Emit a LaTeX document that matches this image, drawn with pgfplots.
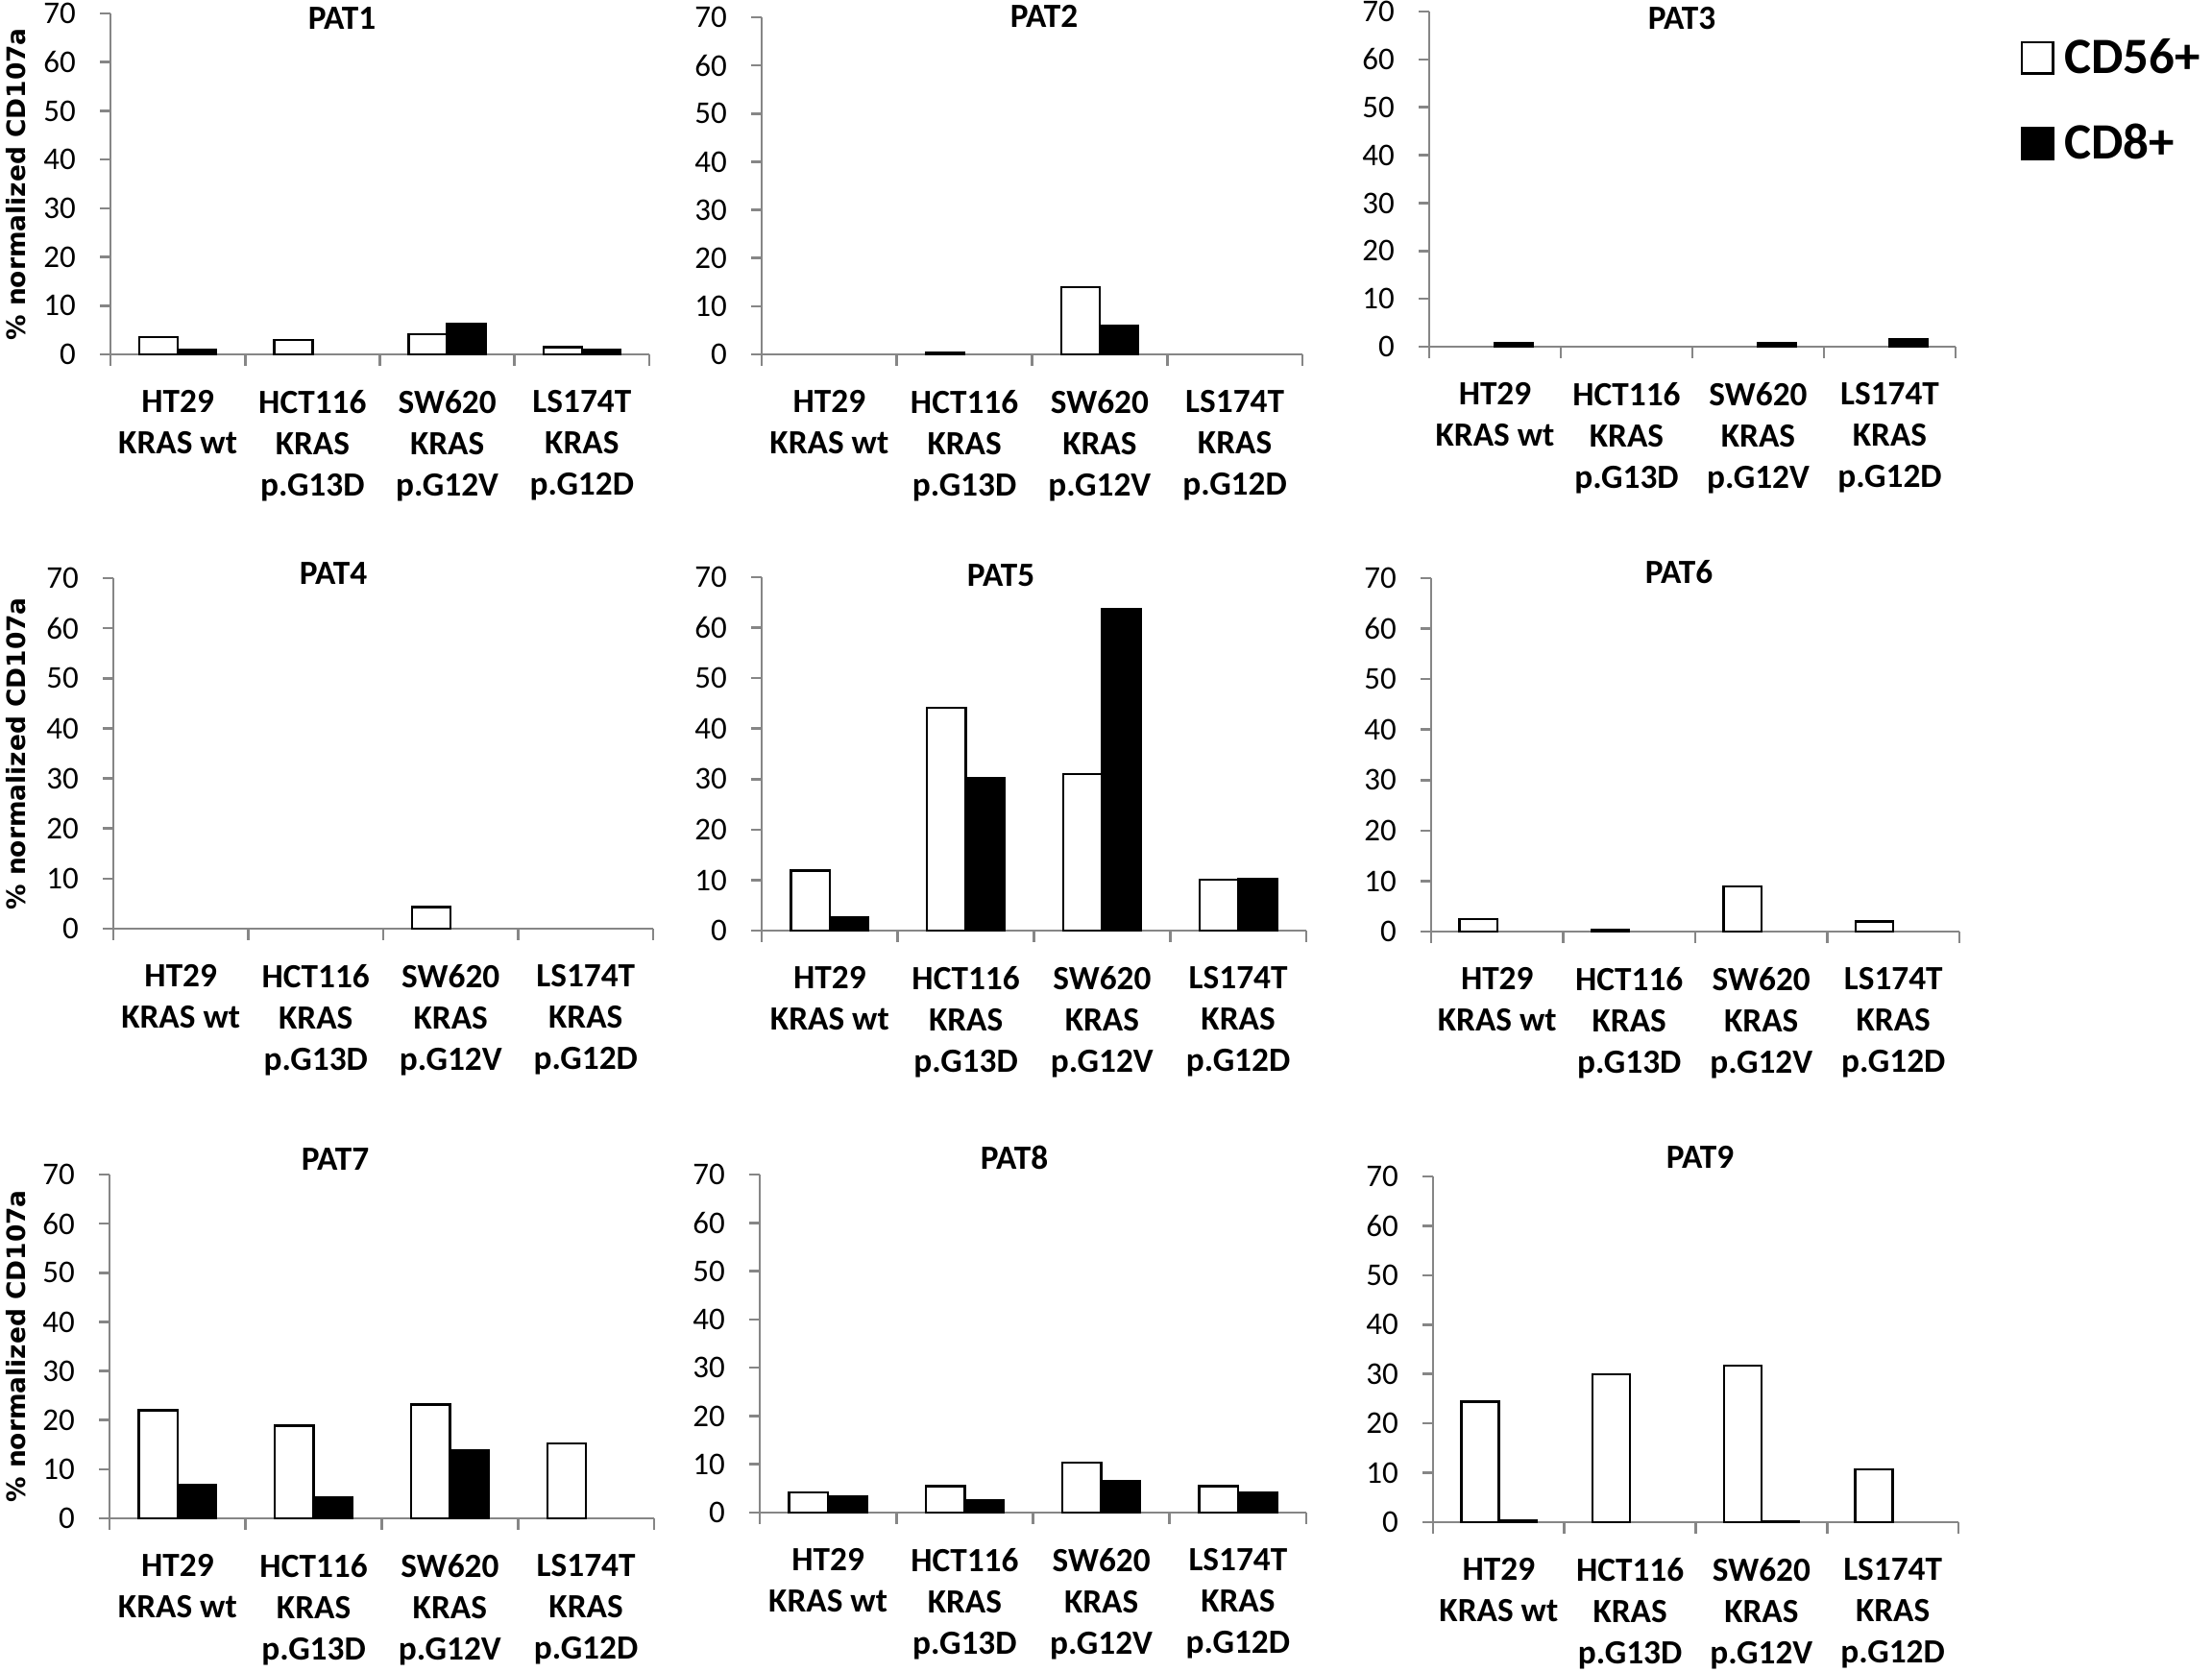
\documentclass[border=0pt]{standalone}
\usepackage{fontspec}
\setmainfont{Carlito}
\newfontfamily\dejavu{DejaVu Sans}
\usepackage{pgfplots}
\usepackage{pgfplotstable}
\pgfplotsset{compat=1.18}
\def\u{0.34pt}
\definecolor{axgray}{RGB}{134,134,134}

\pgfplotstableread{
x cd56 cd8
1 3.5 0.9
2 3.0 0
3 4.2 6.2
4 1.5 0.9
}\patA
\pgfplotstableread{
x cd56 cd8
1 0 0
2 0.3 0
3 14.0 5.9
4 0 0
}\patB
\pgfplotstableread{
x cd56 cd8
1 0 0.8
2 0 0
3 0 0.8
4 0 1.5
}\patC
\pgfplotstableread{
x cd56 cd8
1 0 0
2 0 0
3 4.3 0
4 0 0
}\patD
\pgfplotstableread{
x cd56 cd8
1 11.9 2.7
2 44.1 30.3
3 31.0 63.7
4 10.1 10.3
}\patE
\pgfplotstableread{
x cd56 cd8
1 2.5 0
2 0.3 0
3 8.9 0
4 2.0 0
}\patF
\pgfplotstableread{
x cd56 cd8
1 22.0 6.8
2 18.9 4.3
3 23.2 13.8
4 15.3 0
}\patG
\pgfplotstableread{
x cd56 cd8
1 4.2 3.4
2 5.5 2.5
3 10.3 6.6
4 5.5 4.2
}\patH
\pgfplotstableread{
x cd56 cd8
1 24.4 0.45
2 30.0 0
3 31.7 0.15
4 10.7 0
}\patI

\pgfplotsset{
 panel/.style={
  scale only axis, anchor=south west,
  xmin=0.5, xmax=4.5, ymin=0, ymax=70,
  axis x line=bottom, axis y line=left,
  axis line style={axgray, line width=0.9pt, -},
  ytick={0,10,...,70},
  xtick={1,2,3,4},
  minor xtick={0.5,1.5,2.5,3.5,4.5},
  xticklabels={{HT29\\KRAS wt},{HCT116\\KRAS\\p.G13D},{SW620\\KRAS\\p.G12V},{LS174T\\KRAS\\p.G12D}},
  tick align=outside,
  major tick length=3.7pt, minor tick length=4pt,
  every tick/.style={axgray, line width=0.9pt},
  major x tick style={draw=none},
  /pgf/number format/assume math mode=true,
  yticklabel style={font=\fontsize{11.2}{13}\selectfont, anchor=east, inner sep=0pt, xshift=-8.4pt},
  xticklabel style={font=\fontsize{12}{14.6}\selectfont\bfseries, align=center, anchor=north, inner sep=0pt, yshift=-8.7pt},
  ybar, bar width=0.285,
  y filter/.expression={y==0 ? nan : y},
  unbounded coords=discard,
 },
 s56/.style={fill=white, draw=black, line width=0.8pt, bar shift=-0.1425},
 s8/.style={fill=black, draw=black, line width=0.8pt, bar shift=0.1425},
}
\newcommand{\ttl}{\fontsize{12}{14}\selectfont\bfseries}

\begin{document}
\begin{tikzpicture}
\useasboundingbox (0,0) rectangle (2303*\u,-1741*\u);

% Row 1
\begin{axis}[panel, at={(115*\u,-369*\u)}, width=561*\u, height=355*\u,
  legend style={at={(axis description cs:3.5455,0.9268)}, anchor=north west, draw=none, fill=none,
   inner sep=0pt, outer sep=0pt, font=\fontsize{18}{20}\selectfont\bfseries, row sep=16.5pt,
   nodes={inner sep=0pt}, /tikz/every odd column/.append style={column sep=3.7pt}},
  legend cell align=left]
\addplot[s56, legend image code/.code={\draw[fill=white,draw=black,line width=0.8pt] (0pt,-5.5pt) rectangle (11pt,5.5pt);}] table[x=x,y=cd56]{\patA};
\addplot[s8, legend image code/.code={\draw[fill=black,draw=black,line width=0.8pt] (0pt,-5.5pt) rectangle (11pt,5.5pt);}] table[x=x,y=cd8]{\patA};
\legend{CD56+,CD8+}
\end{axis}
\begin{axis}[panel, at={(793*\u,-369*\u)}, width=563*\u, height=351*\u]
\addplot[s56] table[x=x,y=cd56]{\patB};
\addplot[s8] table[x=x,y=cd8]{\patB};
\end{axis}
\begin{axis}[panel, at={(1488*\u,-361*\u)}, width=548*\u, height=349*\u]
\addplot[s56] table[x=x,y=cd56]{\patC};
\addplot[s8] table[x=x,y=cd8]{\patC};
\end{axis}

% Row 2
\begin{axis}[panel, at={(118*\u,-967*\u)}, width=562*\u, height=365*\u]
\addplot[s56] table[x=x,y=cd56]{\patD};
\addplot[s8] table[x=x,y=cd8]{\patD};
\end{axis}
\begin{axis}[panel, at={(793*\u,-969*\u)}, width=567*\u, height=368*\u]
\addplot[s56] table[x=x,y=cd56]{\patE};
\addplot[s8] table[x=x,y=cd8]{\patE};
\end{axis}
\begin{axis}[panel, at={(1490*\u,-970*\u)}, width=550*\u, height=368*\u]
\addplot[s56] table[x=x,y=cd56]{\patF};
\addplot[s8] table[x=x,y=cd8]{\patF};
\end{axis}

% Row 3
\begin{axis}[panel, at={(114*\u,-1581*\u)}, width=567*\u, height=358*\u]
\addplot[s56] table[x=x,y=cd56]{\patG};
\addplot[s8] table[x=x,y=cd8]{\patG};
\end{axis}
\begin{axis}[panel, at={(791*\u,-1575*\u)}, width=569*\u, height=352*\u]
\addplot[s56] table[x=x,y=cd56]{\patH};
\addplot[s8] table[x=x,y=cd8]{\patH};
\end{axis}
\begin{axis}[panel, at={(1492*\u,-1585*\u)}, width=547*\u, height=360*\u]
\addplot[s56] table[x=x,y=cd56]{\patI};
\addplot[s8] table[x=x,y=cd8]{\patI};
\end{axis}

% Titles
\node[font=\ttl] at (356*\u,-19*\u) {PAT1};
\node[font=\ttl] at (1087*\u,-17*\u) {PAT2};
\node[font=\ttl] at (1751*\u,-19*\u) {PAT3};
\node[font=\ttl] at (347*\u,-597*\u) {PAT4};
\node[font=\ttl] at (1042*\u,-599*\u) {PAT5};
\node[font=\ttl] at (1748*\u,-596*\u) {PAT6};
\node[font=\ttl] at (349*\u,-1207*\u) {PAT7};
\node[font=\ttl] at (1056*\u,-1205*\u) {PAT8};
\node[font=\ttl] at (1770*\u,-1205*\u) {PAT9};

% Y labels
\foreach \yc in {192,785,1402}{
  \node[rotate=90, font=\dejavu\bfseries\fontsize{9}{11}\selectfont, inner sep=0pt] at (17*\u,-\yc*\u) {\% normalized CD107a};
}
\end{tikzpicture}
\end{document}
